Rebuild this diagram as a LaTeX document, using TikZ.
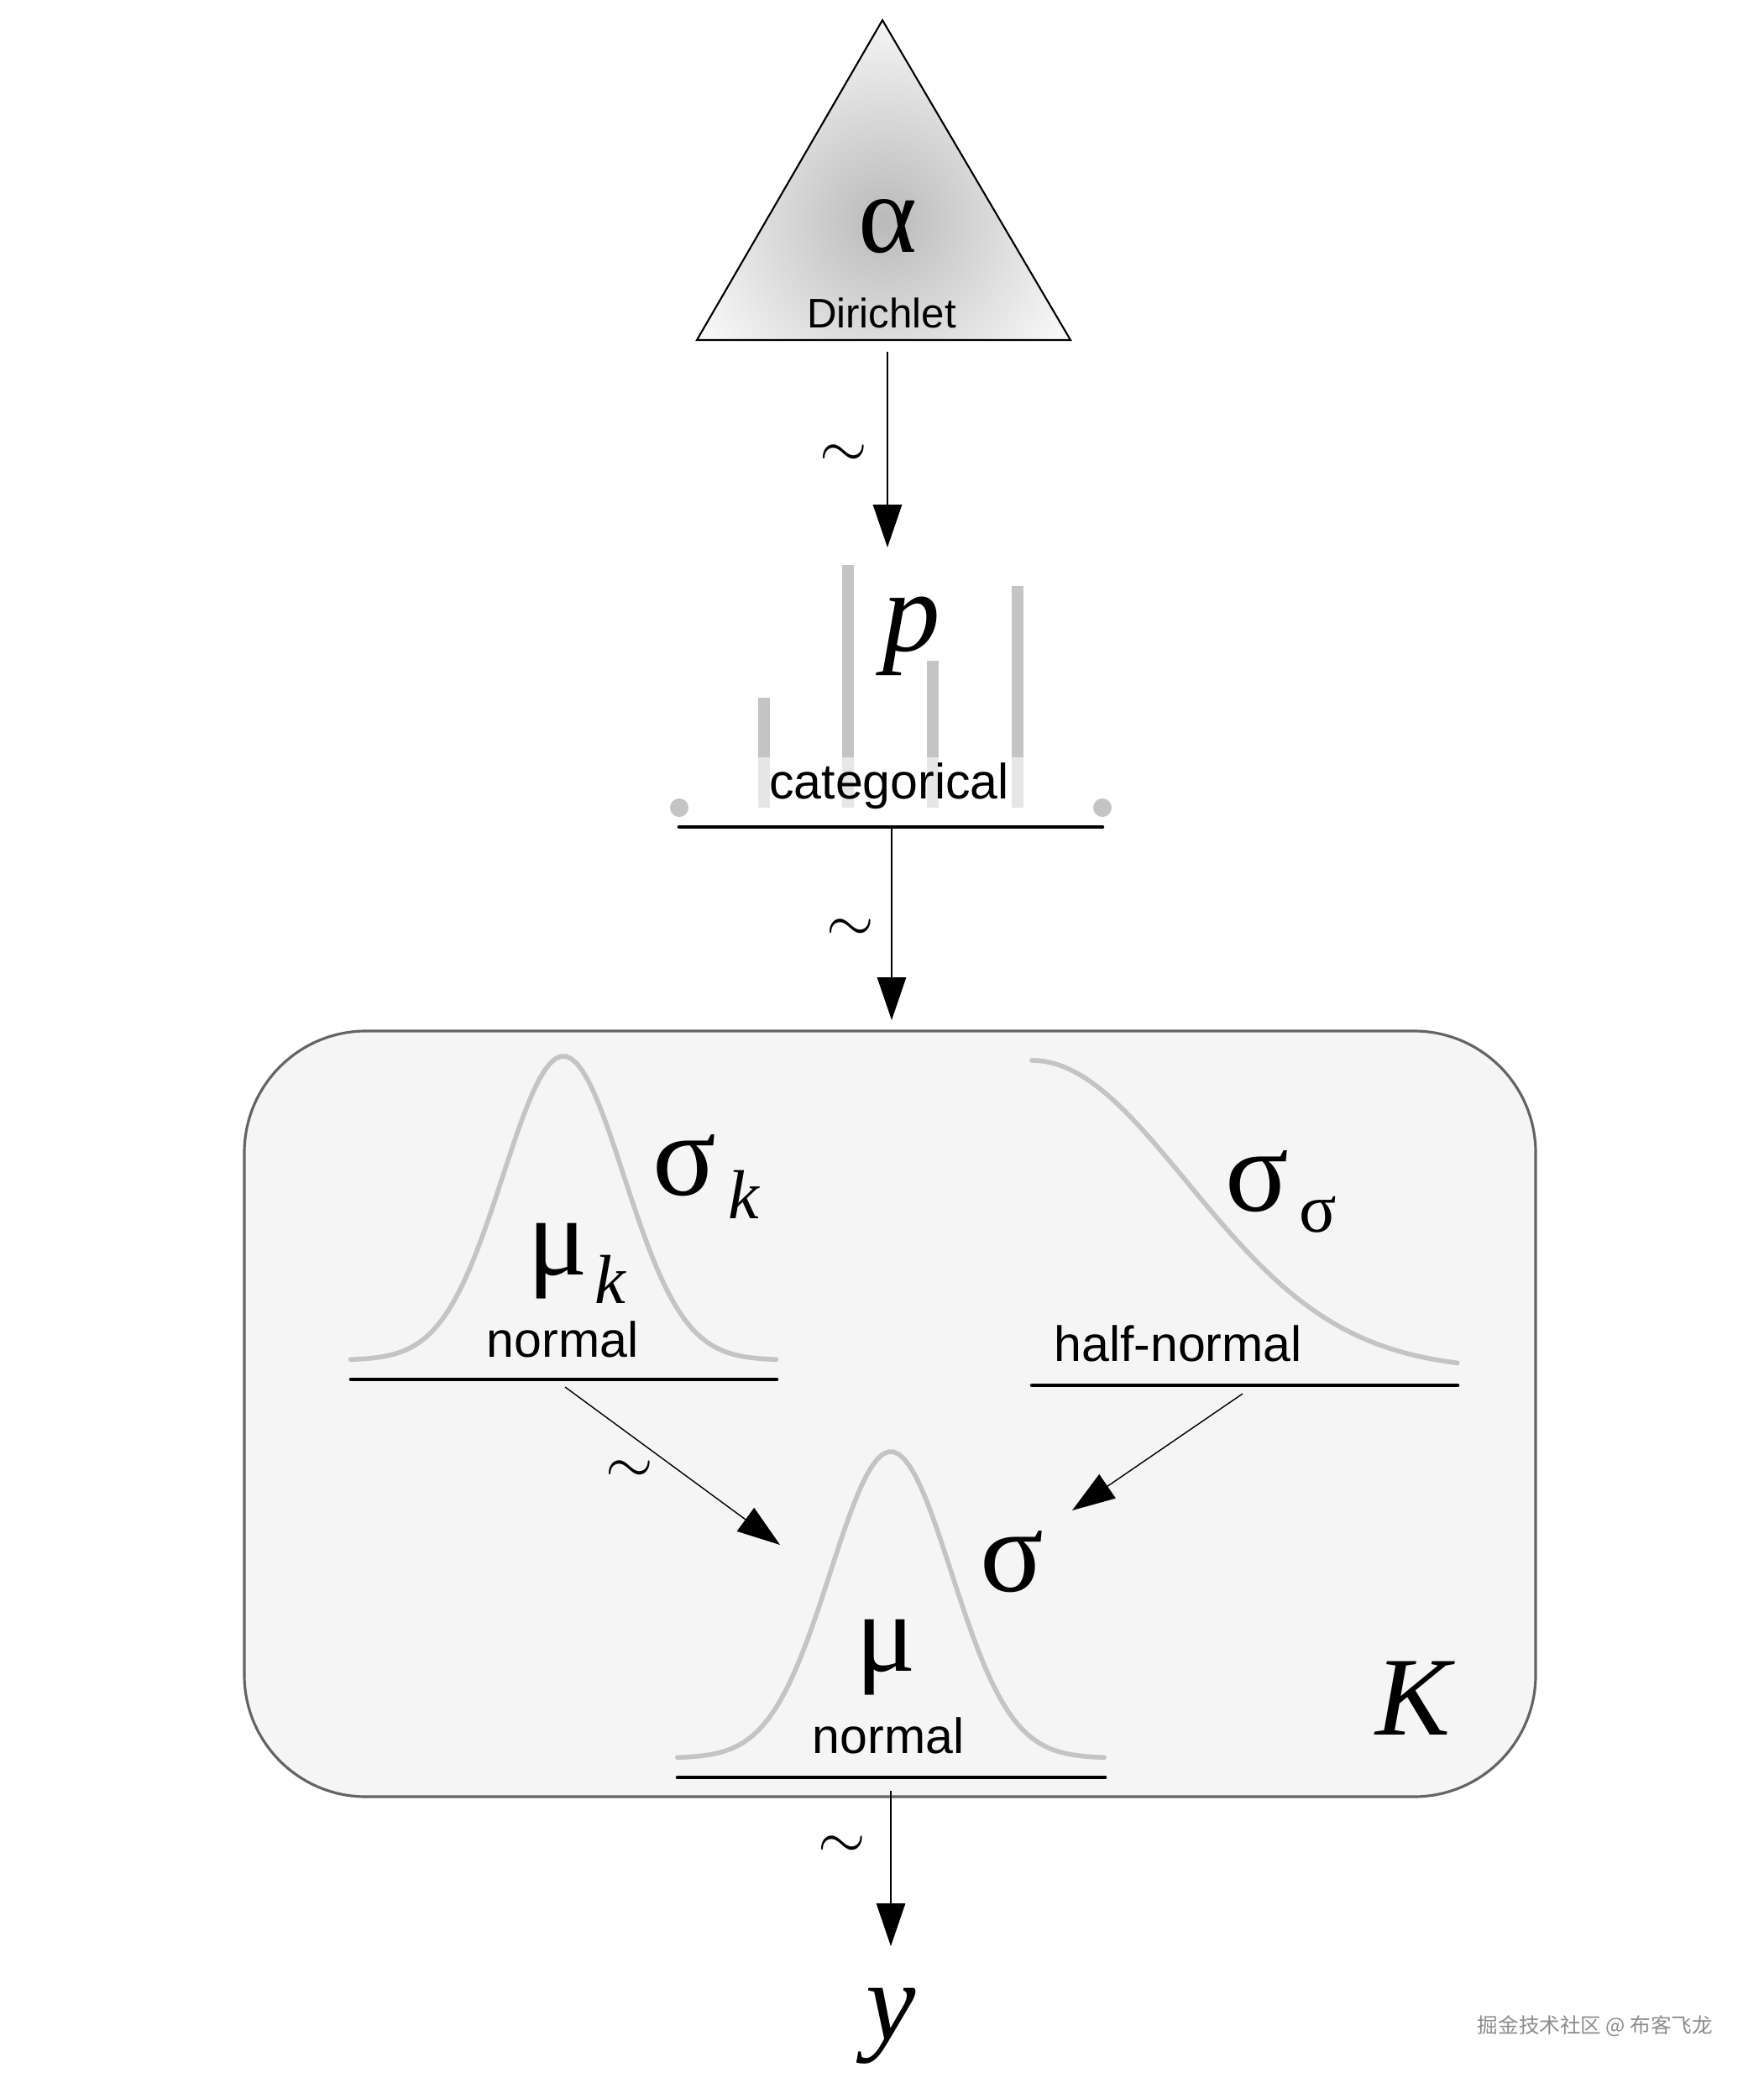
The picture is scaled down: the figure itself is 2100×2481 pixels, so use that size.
\documentclass[tikz,border=0pt]{standalone}
\usepackage{fontspec}
\setmainfont{Liberation Serif}
\setsansfont{Liberation Sans}
\newfontfamily\cjkfont{Noto Sans CJK SC}
\usetikzlibrary{arrows.meta}
\definecolor{curvegray}{HTML}{C4C4C4}
\definecolor{barlight}{HTML}{E6E6E6}
\definecolor{platefill}{HTML}{F5F5F5}
\definecolor{plateedge}{HTML}{646464}
\newcommand{\bigsym}{\fontsize{40}{40}\selectfont}
\newcommand{\subsym}{\fontsize{23.5}{24}\selectfont}
\newcommand{\distname}{\fontsize{16.8}{17}\selectfont\sffamily}
\tikzset{
    dens/.style={line width=1.6pt, curvegray, line cap=round},
    rulebar/.style={line width=1.3pt, line cap=round},
    simarrow/.style={line width=0.4pt, -{Triangle[length=14.5pt,width=9.8pt]}},
    simlabel/.style={font=\fontsize{20.74}{21}\selectfont},
    bigvar/.style={font=\bigsym},
    subvar/.style={font=\subsym},
}

\begin{document}
\begin{tikzpicture}[x=0.1mm, y=-0.1mm, every node/.style={inner sep=0pt}]
    \useasboundingbox (0,0) rectangle (2100,2481);
    % Dirichlet
    \begin{scope}
        \clip (1051,24) -- (1275,405) -- (830,405) -- cycle;
        \fill[white] (830,24) rectangle (1275,405);
        \shade[inner color=black!27, outer color=white] (1053,262) circle (28mm);
    \end{scope}
    \draw[line width=0.6pt] (1051,24) -- (1275,405) -- (830,405) -- cycle;
    \node[font=\fontsize{38}{38}\selectfont] (alpha) at (1057,270) {α};
    \node[font=\fontsize{14}{14}\selectfont\sffamily] (dirichlet) at (1050,373) {Dirichlet};
    \coordinate (alpha-out) at (1057,419);
    \coordinate (p-in) at (1057,652);
    \draw[simarrow] (alpha-out) -- (p-in);
    \node[simlabel] (sim-p) at (1005,543) {$\sim$};
    %\\
    % categorical
    \foreach \bx/\btop in {910/831, 1010/673, 1111/787, 1212/698}{
        \draw[line width=4.1pt, curvegray] (\bx,902) -- (\bx,\btop);
        \draw[line width=4.1pt, barlight] (\bx,962) -- (\bx,902);
    }
    \fill[curvegray] (809,962) circle (1.1mm);
    \fill[curvegray] (1313,962) circle (1.1mm);
    \draw[rulebar] (809,985) -- (1313,985);
    \node[font=\fontsize{39}{39}\selectfont\itshape] (p) at (1086,758) {p};
    \node[font=\distname] (categorical) at (1059,936) {categorical};
    \coordinate (p-out) at (1062,987);
    \coordinate (plate-in) at (1062,1215);
    \draw[simarrow] (p-out) -- (plate-in);
    \node[simlabel] (sim-plate) at (1013,1108) {$\sim$};
    %\\
    % plate K
    \filldraw[fill=platefill, draw=plateedge, line width=0.9pt, rounded corners=14.5mm] (291,1228) rectangle (1829,2140);
    \node[font=\fontsize{38}{38}\selectfont\itshape] (K) at (1683,2023) {K};
    %\\
    % mu_k, sigma_k
    \draw[dens] plot[domain=-3.52:3.52, samples=80] ({671+72*\x}, {1620-362*exp(-0.5*(\x)^2)});
    \draw[rulebar] (418,1643) -- (925,1643);
    \node[bigvar] (sigk) at (815,1388) {σ};
    \node[subvar, font=\subsym\itshape] (sigk-sub) at (886,1423) {k};
    \node[font=\fontsize{38}{38}\selectfont] (muk) at (664,1502) {μ};
    \node[subvar, font=\subsym\itshape] (muk-sub) at (727,1524) {k};
    \node[font=\distname] (normal-k) at (670,1595) {normal};
    %\\
    % sigma_sigma
    \draw[dens] plot[domain=0:2.74, samples=70] ({1229+185*\x}, {1632-369*exp(-0.5*(\x)^2)});
    \draw[rulebar] (1229,1650) -- (1736,1650);
    \node[bigvar] (sigsig) at (1497,1407) {σ};
    \node[subvar] (sigsig-sub) at (1570,1447) {σ};
    \node[font=\distname] (halfnormal) at (1403,1600) {half-normal};
    %\\
    % mu, sigma
    \draw[dens] plot[domain=-3.53:3.53, samples=80] ({1061+72*\x}, {2094-365*exp(-0.5*(\x)^2)});
    \draw[rulebar] (807,2117) -- (1316,2117);
    \node[font=\fontsize{38}{38}\selectfont] (mu) at (1055,1974) {μ};
    \node[bigvar] (sigma) at (1205,1860) {σ};
    \node[font=\distname] (normal) at (1058,2067) {normal};
    \coordinate (muk-out) at (673,1652);
    \coordinate (mu-in) at (929,1840);
    \draw[simarrow] (muk-out) -- (mu-in);
    \node[simlabel] (sim-mu) at (750,1753) {$\sim$};
    \coordinate (sigsig-out) at (1480,1660);
    \coordinate (sigma-in) at (1277,1799);
    \draw[simarrow] (sigsig-out) -- (sigma-in);
    %\\
    % y
    \coordinate (mu-out) at (1061,2133);
    \coordinate (y-in) at (1061,2318);
    \draw[simarrow] (mu-out) -- (y-in);
    \node[simlabel] (sim-y) at (1003,2200) {$\sim$};
    \node[font=\fontsize{38}{38}\selectfont\itshape] (y) at (1061,2413) {y};
    \node[font=\fontsize{7}{7}\selectfont\cjkfont, text=black!45] (mark) at (1900,2413) {掘金技术社区 @ 布客飞龙};
\end{tikzpicture}
\end{document}
